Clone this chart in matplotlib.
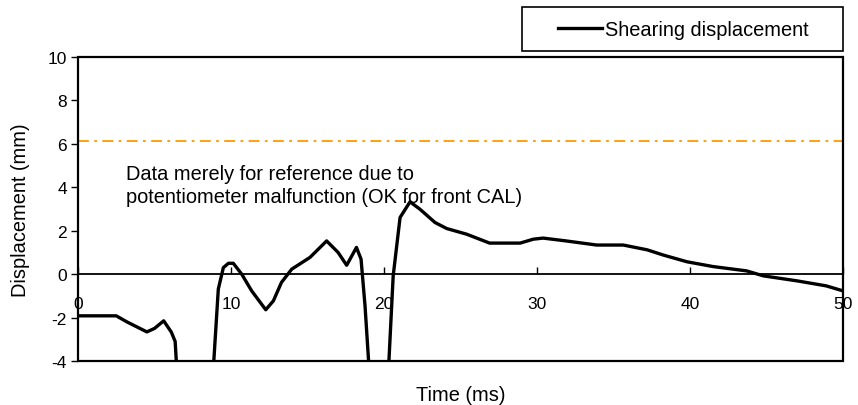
import numpy as np
import matplotlib
matplotlib.use("Agg")
import matplotlib.pyplot as plt
from matplotlib.patches import Rectangle
from matplotlib.lines import Line2D

plt.rcParams['font.family'] = ['Liberation Sans', 'DejaVu Sans']
plt.rcParams['font.size'] = 12

# Shearing displacement curve (time ms, displacement mm); NaN = off-scale (below -4)
time_ms = [0, 2.5, 3.2, 4.5, 5.0, 5.6, 6.1, 6.35, 6.45, np.nan,
           8.85, 9.17, 9.5, 9.83, 10.15, 10.7, 11.35, 12.27, 12.77, 13.3, 13.97,
           15.16, 16.25, 17.0, 17.56, 18.2, 18.5, 18.76, 19.02, np.nan,
           20.3, 20.6, 21.05, 21.7, 22.35, 23.33, 24.1, 25.4, 26.9, 28.9, 29.76,
           30.4, 31.9, 33.9, 35.64, 37.2, 38.25, 39.8, 41.5, 43.7, 44.8, 47.0,
           48.9, 50.0]
disp_mm = [-1.92, -1.92, -2.2, -2.66, -2.5, -2.15, -2.67, -3.1, -4.3, np.nan,
           -4.3, -0.69, 0.3, 0.5, 0.5, 0.0, -0.77, -1.64, -1.23, -0.38, 0.23,
           0.77, 1.53, 1.0, 0.41, 1.23, 0.69, -1.46, -4.3, np.nan,
           -4.3, -0.08, 2.61, 3.33, 2.99, 2.38, 2.1, 1.84, 1.43, 1.43, 1.61,
           1.66, 1.53, 1.34, 1.34, 1.12, 0.88, 0.57, 0.35, 0.15, -0.08, -0.31,
           -0.54, -0.77]

ref_level = 6.15
x_ticks = [0, 10, 20, 30, 40, 50]
y_ticks = [-4, -2, 0, 2, 4, 6, 8, 10]
note_lines = ["Data merely for reference due to",
              "potentiometer malfunction (OK for front CAL)"]
legend_label = "Shearing displacement"

BIG = 14.4

fig = plt.figure(figsize=(8.58, 4.06), dpi=100)
ax = fig.add_axes([78/858, 1-362/406, (843-78)/858, (362-58)/406])

ax.plot(time_ms, disp_mm, color='black', lw=2.4, solid_joinstyle='round')
ax.axhline(ref_level, color='#FF9900', lw=1.3, linestyle=(0, (6, 3, 1.5, 3)))

ax.set_xlim(0, 50)
ax.set_ylim(-4, 10)
ax.set_xticks(x_ticks)
ax.set_yticks(y_ticks)
ax.set_yticklabels([str(v) for v in y_ticks])

for s in ['top', 'right', 'left']:
    ax.spines[s].set_visible(False)
ax.spines['bottom'].set_position(('data', 0))
ax.spines['bottom'].set_linewidth(1.3)
ax.add_patch(Rectangle((0, 0), 1, 1, transform=ax.transAxes, fill=False,
                       edgecolor='black', lw=1.6, clip_on=False, zorder=5))

ax.tick_params(axis='x', direction='in', length=5, width=1, pad=16, labelsize=12.5)
ax.tick_params(axis='y', direction='out', length=5, width=1, pad=3, labelsize=12.5)

ax.set_xlabel('Time (ms)', fontsize=BIG)
ax.xaxis.label.set_va('center')
ax.xaxis.set_label_coords(0.5, (362-396)/304)
ax.set_ylabel('Displacement (mm)', fontsize=BIG)
ax.yaxis.set_label_coords((30-78)/765, 0.5)

ax.text(3.15, 4.38, note_lines[0], fontsize=BIG, va='baseline', ha='left')
ax.text(3.15, 3.32, note_lines[1], fontsize=BIG, va='baseline', ha='left')

# legend box
fig.patches.append(Rectangle((522/858, 1-52/406), (843-522)/858, 44/406,
                             transform=fig.transFigure, fill=False,
                             edgecolor='black', lw=1.2))
leg = fig.legend([Line2D([], [], color='black', lw=2.4)], [legend_label],
                 loc='center left', bbox_to_anchor=(558/858, 1-30/406),
                 frameon=False, handlelength=2.2, handletextpad=0.15,
                 fontsize=BIG, borderpad=0, borderaxespad=0)

fig.savefig('out.png', dpi=100)
